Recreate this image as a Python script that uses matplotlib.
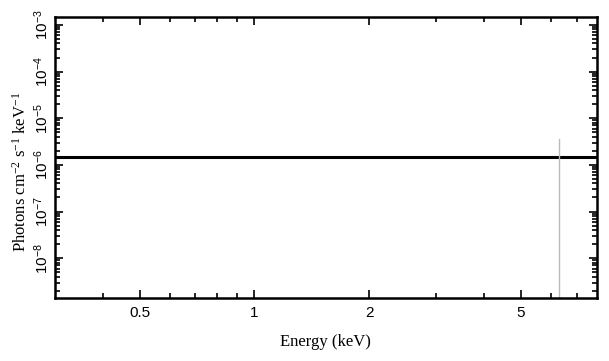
import numpy as np
import matplotlib
matplotlib.use('Agg')
import matplotlib.pyplot as plt
from matplotlib.ticker import FixedLocator, NullFormatter, LogLocator

# model level (constant) and the line marker
energy = [0.3, 8.0]
flux = [1.45e-6, 1.45e-6]
line_energy = 6.3
line_top = 3.5e-6

x_major = [0.5, 1, 2, 5]
x_labels = ['0.5', '1', '2', '5']
x_minor = [0.4, 0.6, 0.7, 0.8, 0.9, 3, 4, 6, 7]
y_major = [1e-8, 1e-7, 1e-6, 1e-5, 1e-4, 1e-3]
y_labels = ['$10^{-8}$', '$10^{-7}$', '$10^{-6}$', '$10^{-5}$', '$10^{-4}$', '$10^{-3}$']

plt.rcParams['mathtext.default'] = 'regular'
plt.rcParams['font.family'] = ['Liberation Sans', 'DejaVu Sans']

fig = plt.figure(figsize=(6.09, 3.61), dpi=100)
ax = fig.add_axes([0.0903, 0.1745, 0.8897, 0.7785])

ax.set_xscale('log')
ax.set_yscale('log')
ax.set_xlim(0.3, 7.9)
ax.set_ylim(1.4e-9, 1.48e-3)

ax.plot(energy, flux, color='black', lw=2.2)
ax.plot([line_energy, line_energy], [1e-12, line_top], color='#bbbbbb', lw=1)

ax.xaxis.set_major_locator(FixedLocator(x_major))
ax.xaxis.set_minor_locator(FixedLocator(x_minor))
ax.set_xticklabels(x_labels)
ax.xaxis.set_minor_formatter(NullFormatter())

ax.yaxis.set_major_locator(FixedLocator(y_major))
ax.yaxis.set_minor_locator(LogLocator(base=10, subs=np.arange(2, 10), numticks=20))
ax.set_yticklabels(y_labels, rotation=90, va='center')
ax.yaxis.set_minor_formatter(NullFormatter())

ax.tick_params(which='both', direction='in', top=True, right=True, width=1.2, labelsize=11)
ax.tick_params(which='major', length=6)
ax.tick_params(which='minor', length=3.5)
ax.tick_params(axis='x', pad=6)
ax.tick_params(axis='y', pad=3)

for s in ax.spines.values():
    s.set_linewidth(1.8)

ax.set_xlabel('Energy (keV)', family='Liberation Serif', fontsize=12, labelpad=10)
ax.set_ylabel('Photons cm$^{-2}$ s$^{-1}$ keV$^{-1}$', family='Liberation Serif', fontsize=12)
ax.yaxis.set_label_coords(-0.047, 0.45)

plt.savefig('out.png', dpi=100)
